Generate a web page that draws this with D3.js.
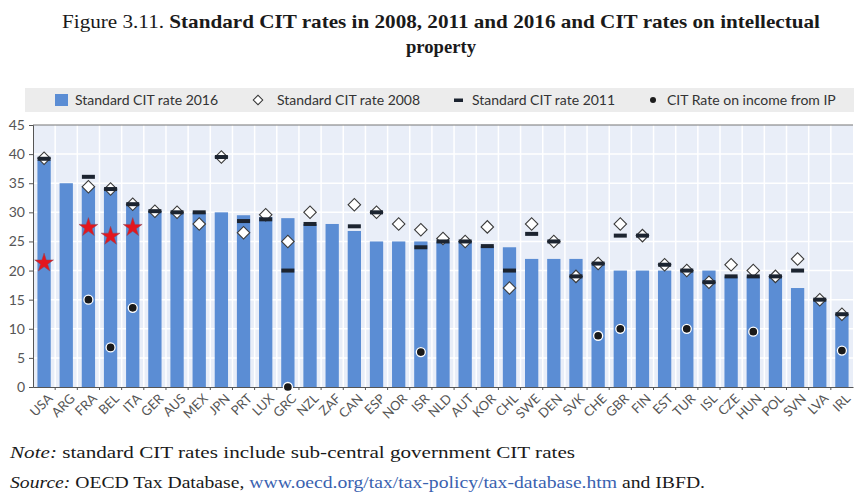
<!DOCTYPE html>
<html>
<head>
<meta charset="utf-8">
<script src="https://cdn.jsdelivr.net/npm/d3@7"></script>
<style>
  body { margin: 0; background: #fff; }
  svg { display: block; }
</style>
</head>
<body>
<svg width="854" height="492"></svg>
<script>
// data
const countries = ["USA","ARG","FRA","BEL","ITA","GER","AUS","MEX","JPN","PRT","LUX","GRC","NZL","ZAF","CAN","ESP","NOR","ISR","NLD","AUT","KOR","CHL","SWE","DEN","SVK","CHE","GBR","FIN","EST","TUR","ISL","CZE","HUN","POL","SVN","LVA","IRL"];
const rate2016 = [39,35,34.4,34,31.3,30.2,30,30,30,29.5,29.2,29,28,28,26.8,25,25,25,25,25,24.2,24,22,22,22,21.2,20,20,20,20,20,19,19,19,17,15,12.5];
const rate2008 = [39.3,null,34.4,34,31.4,30.2,30,28,39.5,26.5,29.6,25,30,null,31.3,30,28,27,25.5,25,27.5,17,28,25,19,21.2,28,26,21,20,18,21,20,19,22,15,12.5];
const rate2011 = [39.2,null,36.1,34,31.4,30.2,30,30,39.5,28.5,28.8,20,28,null,27.6,30,null,24,25,25,24.2,20,26.3,25,19,21.2,26,26,21,20,18,19,19,19,20,15,12.5];
const rateIP = [null,null,15,6.8,13.6,null,null,null,null,null,null,0,null,null,null,null,null,6,null,null,null,null,null,null,null,8.8,10,null,null,10,null,null,9.5,null,null,null,6.25];
const starRate = [21.3,null,27.4,25.9,27.4];
const yTicks = [0,5,10,15,20,25,30,35,40,45];

const svg = d3.select("svg");
const plotLeft = 33, plotRight = 853, plotTop = 125, plotBottom = 387;
const barBlue = "#5b8dd4";

// title
const title = svg.append("text")
    .attr("x", 441).attr("y", 28)
    .attr("text-anchor", "middle")
    .attr("textLength", 758).attr("lengthAdjust", "spacingAndGlyphs")
    .style("font-family", "Liberation Serif")
    .style("font-size", "19px")
    .attr("fill", "#1a1a1a");
title.append("tspan").text("Figure 3.11. ");
title.append("tspan").style("font-weight", "bold")
    .text("Standard CIT rates in 2008, 2011 and 2016 and CIT rates on intellectual");
svg.append("text")
    .attr("x", 441).attr("y", 53)
    .attr("text-anchor", "middle")
    .attr("textLength", 70).attr("lengthAdjust", "spacingAndGlyphs")
    .style("font-family", "Liberation Serif")
    .style("font-size", "19px")
    .style("font-weight", "bold")
    .attr("fill", "#1a1a1a")
    .text("property");

// legend
svg.append("rect").attr("x", 25).attr("y", 88).attr("width", 829).attr("height", 24).attr("fill", "#ececec");
function legText(x, t){
    svg.append("text").attr("x", x).attr("y", 105)
        .style("font-family", "Lato").style("font-size", "14px")
        .attr("fill", "#333").text(t);
}
const diamond = d3.symbol(d3.symbolSquare, 78)();
svg.append("rect").attr("x", 55).attr("y", 94).attr("width", 13).attr("height", 12).attr("fill", barBlue);
legText(75, "Standard CIT rate 2016");
svg.append("path").attr("transform", "translate(258,100) rotate(45)")
    .attr("d", d3.symbol(d3.symbolSquare, 45)())
    .attr("fill", "#fff").attr("stroke", "#333").attr("stroke-width", 1);
legText(277, "Standard CIT rate 2008");
svg.append("rect").attr("x", 454).attr("y", 98.5).attr("width", 9).attr("height", 3.5).attr("fill", "#1c2430");
legText(472, "Standard CIT rate 2011");
svg.append("circle").attr("cx", 653).attr("cy", 100).attr("r", 3).attr("fill", "#1c1c1c");
legText(667, "CIT Rate on income from IP");

// scales
const x = d3.scaleBand().domain(countries).range([plotLeft, plotRight]).paddingInner(0.4).paddingOuter(0.2);
const y = d3.scaleLinear().domain([0, 45]).range([plotBottom, plotTop]);

// plot background and white grid
svg.append("rect").attr("x", plotLeft).attr("y", plotTop)
    .attr("width", plotRight - plotLeft).attr("height", plotBottom - plotTop)
    .attr("fill", "#e9eef8");
const step = x.step();
svg.append("g").selectAll("line").data(countries.slice(1)).join("line")
    .attr("x1", d => x(d) - step * 0.2).attr("x2", d => x(d) - step * 0.2)
    .attr("y1", plotTop).attr("y2", plotBottom)
    .attr("stroke", "#fff").attr("stroke-width", 1.5);
svg.append("g").selectAll("line").data(yTicks.slice(1, -1)).join("line")
    .attr("x1", plotLeft).attr("x2", plotRight)
    .attr("y1", d => y(d)).attr("y2", d => y(d))
    .attr("stroke", "#fff").attr("stroke-width", 1.5);

// bars
svg.append("g").selectAll("rect").data(countries).join("rect")
    .attr("x", d => x(d)).attr("width", x.bandwidth())
    .attr("y", (d, i) => y(rate2016[i])).attr("height", (d, i) => y(0) - y(rate2016[i]))
    .attr("fill", barBlue);

// top border
svg.append("line").attr("x1", plotLeft).attr("x2", plotRight).attr("y1", plotTop).attr("y2", plotTop)
    .attr("stroke", "#777").attr("stroke-width", 1.2);

// axes
const yAxis = svg.append("g").attr("transform", `translate(${plotLeft},0)`)
    .call(d3.axisLeft(y).tickValues(yTicks).tickSize(4).tickPadding(4));
yAxis.select(".domain").attr("stroke", "#555");
yAxis.selectAll(".tick line").attr("stroke", "#555");
yAxis.selectAll(".tick text").style("font-family", "Lato").style("font-size", "14px").attr("fill", "#555");

const xAxis = svg.append("g").attr("transform", `translate(0,${plotBottom})`)
    .call(d3.axisBottom(x).tickSize(0).tickPadding(7));
xAxis.select(".domain").attr("stroke", "#555");
xAxis.selectAll(".tick text")
    .style("font-family", "Lato").style("font-size", "13px").attr("fill", "#555")
    .attr("text-anchor", "end")
    .attr("transform", "translate(-2,1) rotate(-45)")
    .attr("dy", "0.7em");
svg.append("g").selectAll("line").data(countries.slice(1)).join("line")
    .attr("x1", d => x(d) - step * 0.2).attr("x2", d => x(d) - step * 0.2)
    .attr("y1", plotBottom).attr("y2", plotBottom + 3)
    .attr("stroke", "#555");

const cx = d => x(d) + x.bandwidth() / 2;
const has = v => v !== null && v !== undefined;

// 2008 diamonds
svg.append("g").selectAll("path")
    .data(countries.map((c, i) => [c, rate2008[i]]).filter(d => has(d[1]))).join("path")
    .attr("transform", d => `translate(${cx(d[0])},${y(d[1])}) rotate(45)`)
    .attr("d", diamond)
    .attr("fill", "#fff").attr("stroke", "#3a3a3a").attr("stroke-width", 1.1);

// 2011 dashes
svg.append("g").selectAll("rect")
    .data(countries.map((c, i) => [c, rate2011[i]]).filter(d => has(d[1]))).join("rect")
    .attr("x", d => cx(d[0]) - 6.5).attr("y", d => y(d[1]) - 2)
    .attr("width", 13).attr("height", 4)
    .attr("fill", "#1c2430");

// IP rate dots
svg.append("g").selectAll("circle")
    .data(countries.map((c, i) => [c, rateIP[i]]).filter(d => has(d[1]))).join("circle")
    .attr("cx", d => cx(d[0])).attr("cy", d => y(d[1])).attr("r", 4.5)
    .attr("fill", "#1a1a1a").attr("stroke", "#fff").attr("stroke-width", 1.3);

// red stars
svg.append("g").selectAll("path")
    .data(countries.map((c, i) => [c, starRate[i]]).filter(d => has(d[1]))).join("path")
    .attr("transform", d => `translate(${cx(d[0])},${y(d[1])})`)
    .attr("d", d3.symbol(d3.symbolStar, 110)())
    .attr("fill", "#e3161e").attr("stroke", "#8a4b5a").attr("stroke-width", 0.5);

// notes
const note = svg.append("text").attr("x", 10).attr("y", 458)
    .attr("textLength", 565).attr("lengthAdjust", "spacingAndGlyphs")
    .style("font-family", "Liberation Serif").style("font-size", "17px").attr("fill", "#1a1a1a");
note.append("tspan").style("font-style", "italic").text("Note:");
note.append("tspan").text(" standard CIT rates include sub-central government CIT rates");
const src = svg.append("text").attr("x", 10).attr("y", 488)
    .attr("textLength", 695).attr("lengthAdjust", "spacingAndGlyphs")
    .style("font-family", "Liberation Serif").style("font-size", "17px").attr("fill", "#1a1a1a");
src.append("tspan").style("font-style", "italic").text("Source:");
src.append("tspan").text(" OECD Tax Database, ");
src.append("tspan").attr("fill", "#3a62b0").text("www.oecd.org/tax/tax-policy/tax-database.htm");
src.append("tspan").text(" and IBFD.");
</script>
</body>
</html>
